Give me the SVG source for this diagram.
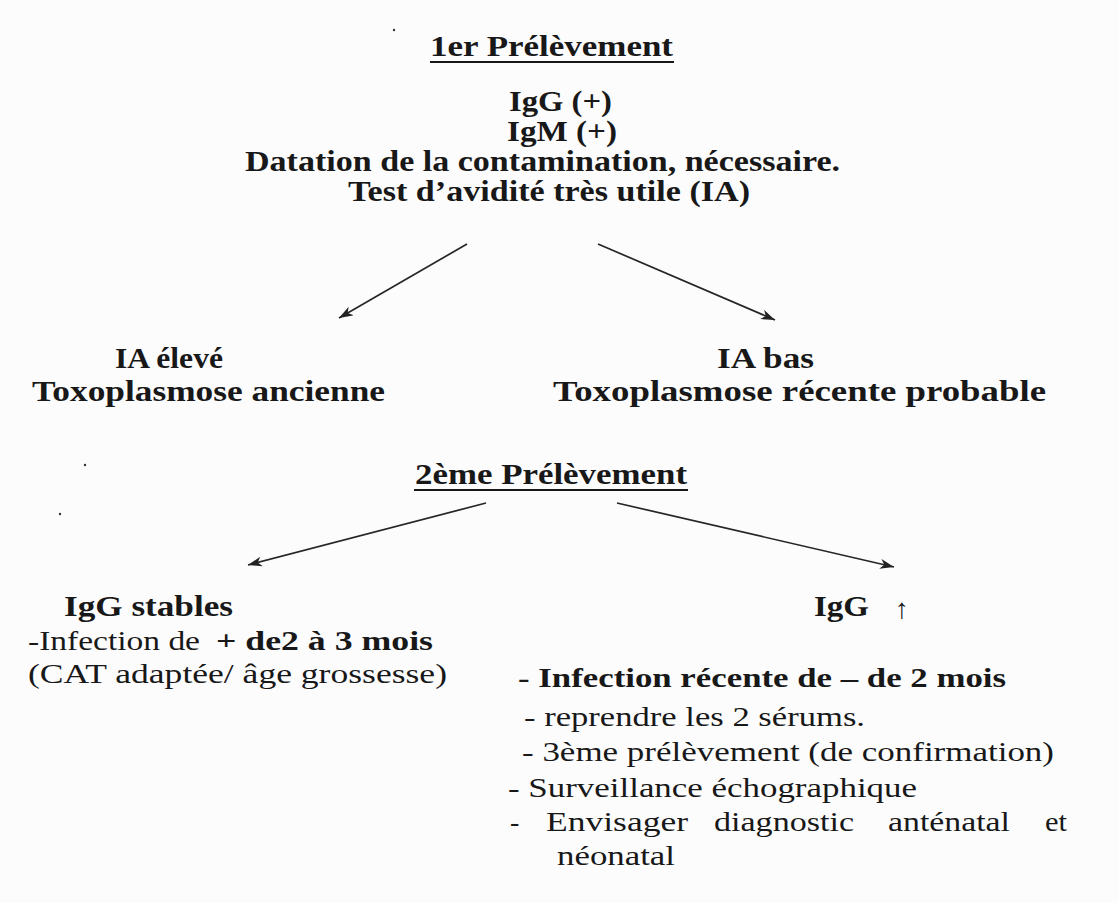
<svg xmlns="http://www.w3.org/2000/svg" width="1119" height="903" viewBox="0 0 1119 903">
<style>
  .b { font-family: "Liberation Serif", "Times New Roman", serif; font-weight: bold; font-size: 29px; fill: #181818; }
  .r { font-family: "Liberation Serif", "Times New Roman", serif; font-weight: normal; font-size: 28px; fill: #181818; }
  .rb { font-family: "Liberation Serif", "Times New Roman", serif; font-weight: bold; font-size: 28px; fill: #181818; }
  .ul { stroke: #181818; stroke-width: 2.2; }
  .conn { stroke: #262626; stroke-width: 1.7; fill: none; marker-end: url(#ah); }
  .speck { fill: #333; }
</style>
<defs>
  <marker id="ah" markerUnits="userSpaceOnUse" markerWidth="16" markerHeight="12" refX="14" refY="5" orient="auto">
    <path d="M0,0 L14,5 L0,10 L4,5 z" fill="#222"/>
  </marker>
</defs>
<rect x="0" y="0" width="1119" height="903" fill="#fcfcfd"/>

<circle class="speck" cx="394" cy="30" r="1.2"/>
<circle class="speck" cx="85" cy="465" r="1.2"/>
<circle class="speck" cx="60" cy="514" r="1.2"/>

<g id="node-prelevement1">
  <text class="b" x="430" y="56" textLength="243" lengthAdjust="spacingAndGlyphs">1er Prélèvement</text>
  <line class="ul" x1="430" y1="62" x2="674" y2="62"/>
  <text class="b" x="509" y="111" textLength="103" lengthAdjust="spacingAndGlyphs">IgG (+)</text>
  <text class="b" x="507" y="141" textLength="110" lengthAdjust="spacingAndGlyphs">IgM (+)</text>
  <text class="b" x="245" y="171" textLength="595" lengthAdjust="spacingAndGlyphs">Datation de la contamination, nécessaire.</text>
  <text class="b" x="348" y="201" textLength="402" lengthAdjust="spacingAndGlyphs">Test d’avidité très utile (IA)</text>
</g>

<g id="node-ia-eleve">
  <text class="b" x="115" y="368" textLength="108" lengthAdjust="spacingAndGlyphs">IA élevé</text>
  <text class="b" x="32" y="401" textLength="353" lengthAdjust="spacingAndGlyphs">Toxoplasmose ancienne</text>
</g>

<g id="node-ia-bas">
  <text class="b" x="717" y="368" textLength="97" lengthAdjust="spacingAndGlyphs">IA bas</text>
  <text class="b" x="553" y="401" textLength="493" lengthAdjust="spacingAndGlyphs">Toxoplasmose récente probable</text>
</g>

<g id="node-prelevement2">
  <text class="b" x="415" y="484" textLength="272" lengthAdjust="spacingAndGlyphs">2ème Prélèvement</text>
  <line class="ul" x1="414" y1="490" x2="688" y2="490"/>
</g>

<g id="node-igg-stables">
  <text class="b" x="64" y="616" textLength="169" lengthAdjust="spacingAndGlyphs">IgG stables</text>
  <text class="r" x="28" y="650" textLength="172" lengthAdjust="spacingAndGlyphs">-Infection de</text>
  <text class="rb" x="216" y="650" textLength="217" lengthAdjust="spacingAndGlyphs">+ de2 à 3 mois</text>
  <text class="r" x="28" y="683" textLength="419" lengthAdjust="spacingAndGlyphs">(CAT adaptée/ âge grossesse)</text>
</g>

<g id="node-igg-hausse">
  <text class="b" x="814" y="616" textLength="55" lengthAdjust="spacingAndGlyphs">IgG</text>
  <text class="r" x="902" y="618" font-family="DejaVu Serif, serif" font-size="24" text-anchor="middle">↑</text>
  <text class="rb" x="518" y="687" textLength="488" lengthAdjust="spacingAndGlyphs">- Infection récente de – de 2 mois</text>
  <text class="r" x="524" y="726" textLength="341" lengthAdjust="spacingAndGlyphs">- reprendre les 2 sérums.</text>
  <text class="r" x="522" y="761" textLength="532" lengthAdjust="spacingAndGlyphs">- 3ème prélèvement (de confirmation)</text>
  <text class="r" x="508" y="797" textLength="409" lengthAdjust="spacingAndGlyphs">- Surveillance échographique</text>
  <text class="r" x="510" y="831">-</text>
  <text class="r" x="546" y="831" textLength="142" lengthAdjust="spacingAndGlyphs">Envisager</text>
  <text class="r" x="714" y="831" textLength="140" lengthAdjust="spacingAndGlyphs">diagnostic</text>
  <text class="r" x="888" y="831" textLength="122" lengthAdjust="spacingAndGlyphs">anténatal</text>
  <text class="r" x="1045" y="831" textLength="22" lengthAdjust="spacingAndGlyphs">et</text>
  <text class="r" x="557" y="865" textLength="118" lengthAdjust="spacingAndGlyphs">néonatal</text>
</g>

<g id="connectors">
  <line class="conn" x1="467" y1="244" x2="339" y2="318"/>
  <line class="conn" x1="598" y1="244" x2="775" y2="320"/>
  <line class="conn" x1="486" y1="503" x2="248" y2="565"/>
  <line class="conn" x1="617" y1="503" x2="894" y2="567"/>
</g>
</svg>
